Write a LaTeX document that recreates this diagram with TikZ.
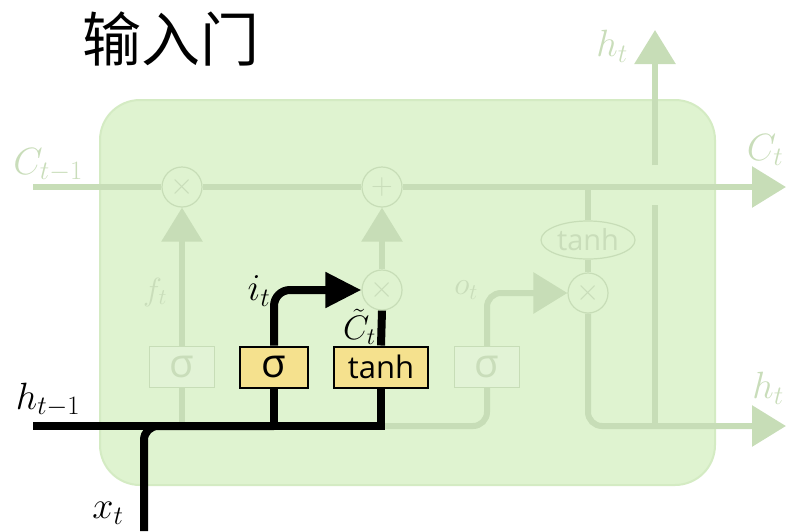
\RequirePackage{fix-cm}
\documentclass[tikz,border=0pt]{standalone}
\usepackage{fontspec}
\setsansfont{Open Sans}
\newfontfamily\cjkfont{Noto Sans CJK SC}
\usetikzlibrary{arrows.meta,shapes.geometric,positioning}

\definecolor{cellgreen}{HTML}{DFF3D0}
\definecolor{celledge}{HTML}{D4EBC3}
\definecolor{fadeline}{HTML}{C7DDB7}
\definecolor{fadetext}{HTML}{C9DDBA}
\definecolor{fadebox}{HTML}{E2F3D6}
\definecolor{gateyellow}{HTML}{F5E18E}

\tikzset{
  cellbox/.style={draw=celledge, line width=2pt, fill=cellgreen, rounded corners=40pt,
    minimum width=615pt, minimum height=385pt, inner sep=0pt},
  gate/.style={draw=black, line width=2pt, fill=gateyellow, minimum height=41pt,
    inner sep=0pt, font=\sffamily\fontsize{31}{31}\selectfont},
  sigfont/.style={font=\sffamily\fontsize{40}{40}\selectfont},
  fadegate/.style={gate, draw=fadeline, line width=1.2pt, fill=fadebox, text=fadetext},
  op/.style={circle, draw=fadeline, line width=1.2pt, fill=cellgreen, minimum size=40pt,
    inner sep=0pt, text=fadetext, font=\fontsize{30}{30}\selectfont},
  fade/.style={draw=fadeline, line width=6pt},
  live/.style={draw=black, line width=8pt},
  fadetip/.style={-{Triangle[length=34pt,width=40pt]}},
  livetip/.style={-{Triangle[length=36pt,width=34pt]}},
  lbl/.style={inner sep=0pt, font=\fontsize{38}{38}\selectfont},
  fadelbl/.style={lbl, text=fadetext},
}

\begin{document}
\begin{tikzpicture}[x=1pt,y=-1pt]
    \useasboundingbox (0,0) rectangle (786,531);

    % title
    \node (title) at (171,39) {\cjkfont\fontsize{59}{59}\selectfont 输入门};

    % the cell
    \node[cellbox] (cell) at (407.5,292.5) {};

    % pointwise operations
    \node[op] (fmul) at (182,187) {$\times$};
    \node[op] (add) at (382,187) {$+$};
    \node[op] (imul) at (382,290) {$\times$};
    \node[op] (omul) at (588,293) {$\times$};
    \node[ellipse, draw=fadeline, line width=1.2pt, fill=cellgreen, minimum width=94pt,
      minimum height=38pt, inner sep=0pt, text=fadetext,
      font=\sffamily\fontsize{29}{29}\selectfont] (otanh) at (588,240) {tanh};

    % gates
    \node[fadegate, sigfont, minimum width=65pt] (fsig) at (182,367) {σ};
    \node[gate, sigfont, minimum width=68pt] (isig) at (274,367) {σ};
    \node[gate, minimum width=94pt] (ctanh) at (381,367) {tanh};
    \node[fadegate, sigfont, minimum width=65pt] (osig) at (487,367) {σ};

    % ends of the connectors
    \coordinate (cin) at (33,187);
    \coordinate (cout) at (786,187);
    \coordinate (hin) at (33,426);
    \coordinate (hout) at (786,426);
    \coordinate (xin) at (144,531);
    \coordinate (hup) at (655,30);
    \coordinate (hlow) at (655,205);
    \coordinate (hhigh) at (655,165);

    % faded connectors
    \draw[fade, fadetip] (cin) -- (fmul) -- (add) -- (cout);
    \draw[fade, fadetip] (fsig) -- (fmul);
    \draw[fade] (fsig.south) -- (fsig.south |- hin);
    \draw[fade, fadetip] (imul) -- (add);
    \draw[fade, rounded corners=14pt] (ctanh.south |- hin) -| (osig.south);
    \draw[fade, fadetip, rounded corners=14pt] (osig.north) |- (omul.west);
    \draw[fade] (otanh.north |- cin) -- (otanh.north);
    \draw[fade] (otanh.south) -- (omul.north);
    \draw[fade, fadetip, rounded corners=14pt] (omul.south) |- (hout);
    \draw[fade] (hlow |- hin) -- (hlow);
    \draw[fade, fadetip] (hhigh) -- (hup);

    % the input gate
    \draw[live] (hin) -- (ctanh.south |- hin) -- (ctanh.south);
    \draw[live] (isig.south |- hin) -- (isig.south);
    \draw[live, rounded corners=14pt] (xin) |- (isig.south |- hin);
    \draw[live, livetip, rounded corners=16pt] (isig.north) |- (imul.west);
    \draw[live] (ctanh.north) -- (imul.south);

    % labels
    \node[fadelbl] (lcin) at (48,165) {$C_{t-1}$};
    \node[fadelbl, font=\fontsize{32}{32}\selectfont] (lft) at (155,292) {$f_t$};
    \node[lbl] (lit) at (259,291) {$i_t$};
    \node[lbl, anchor=south east, font=\fontsize{34}{34}\selectfont] (lct) at (376,345) {$\tilde{C}_t$};
    \node[fadelbl, font=\fontsize{32}{32}\selectfont] (lot) at (466,290) {$o_t$};
    \node[lbl] (lhin) at (48,400) {$h_{t-1}$};
    \node[lbl] (lxt) at (108,513) {$x_t$};
    \node[fadelbl] (lhup) at (612,46) {$h_t$};
    \node[fadelbl] (lcout) at (765,150) {$C_t$};
    \node[fadelbl] (lhout) at (768,388) {$h_t$};
\end{tikzpicture}
\end{document}
